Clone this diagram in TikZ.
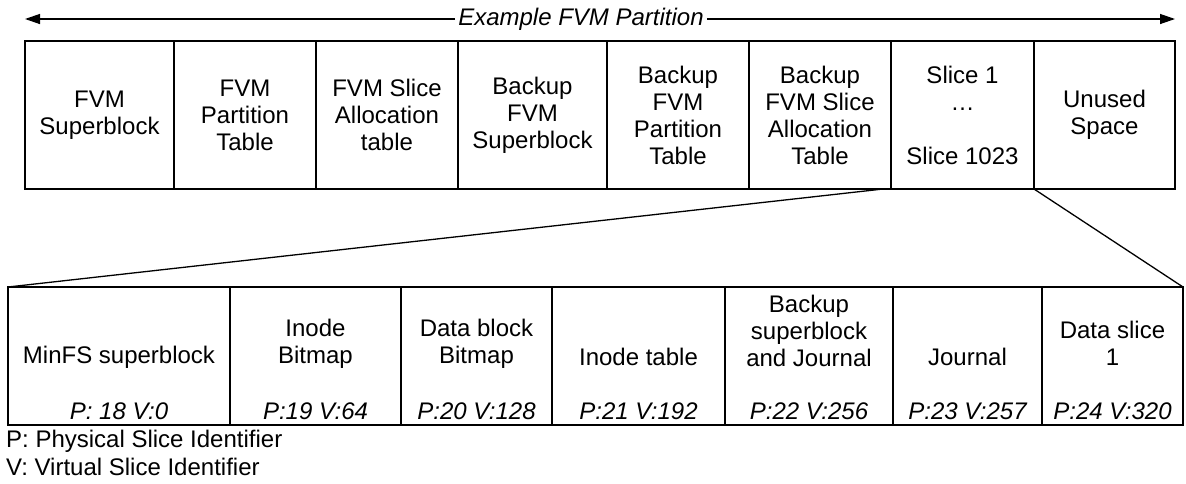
\documentclass[tikz,border=0pt]{standalone}
\usepackage{fontspec}
\setmainfont{Liberation Sans}
\usetikzlibrary{arrows.meta,calc}

\tikzset{
  cell/.style={draw,line width=1.7pt,inner sep=0pt,outer sep=0pt,align=center,
    font=\fontsize{24}{27}\selectfont},
  txt/.style={inner sep=0pt,align=center,font=\fontsize{24}{27}\selectfont},
  sid/.style={inner sep=0pt,font=\fontsize{24}{27}\selectfont\itshape},
  link/.style={line width=1.3pt},
  span/.style={line width=1.3pt,-{Triangle[length=15pt,width=10pt]}}
}

\begin{document}
\begin{tikzpicture}[x=1pt,y=-1pt]
\useasboundingbox (0,0) rectangle (1186,483);

\node[cell,minimum width=149,minimum height=148] (sb) at (99.5,115) {FVM\\Superblock};
\node[cell,minimum width=142,minimum height=148] (pt) at (245,115) {FVM\\Partition\\Table};
\node[cell,minimum width=142,minimum height=148] (sat) at (387,115) {FVM Slice\\Allocation\\table};
\node[cell,minimum width=149,minimum height=148] (bsb) at (532.5,115) {Backup\\FVM\\Superblock};
\node[cell,minimum width=142,minimum height=148] (bpt) at (678,115) {Backup\\FVM\\Partition\\Table};
\node[cell,minimum width=142,minimum height=148] (bsat) at (820,115) {Backup\\FVM Slice\\Allocation\\Table};
\node[cell,minimum width=143,minimum height=148] (slices) at (962.5,115) {Slice 1\\\textellipsis\\{}\\Slice 1023};
\node[cell,minimum width=141,minimum height=148] (unused) at (1104.5,115) {Unused\\Space};

\node[sid,inner xsep=3pt] (title) at (581,19) {Example FVM Partition};
\coordinate (ptl) at (sb.north west |- title.center);
\coordinate (ptr) at (unused.north east |- title.center);
\draw[span] (title) -- (ptl);
\draw[span] (title) -- (ptr);

\node[cell,minimum width=222,minimum height=138] (msb) at (119,356) {};
\node[cell,minimum width=171,minimum height=138] (ibm) at (315.5,356) {};
\node[cell,minimum width=151,minimum height=138] (dbm) at (476.5,356) {};
\node[cell,minimum width=173,minimum height=138] (itab) at (638.5,356) {};
\node[cell,minimum width=168,minimum height=138] (bjnl) at (809,356) {};
\node[cell,minimum width=149,minimum height=138] (jnl) at (967.5,356) {};
\node[cell,minimum width=141,minimum height=138] (dslice) at (1112.5,356) {};

\node[txt] (msbtxt) at (119,357) {MinFS superblock};
\node[txt] (ibmtxt) at (315.5,343.75) {Inode\\Bitmap};
\node[txt] (dbmtxt) at (476.5,343.75) {Data block\\Bitmap};
\node[txt] (itabtxt) at (638.5,357) {Inode table};
\node[txt] (bjnltxt) at (809,330.5) {Backup\\superblock\\and Journal};
\node[txt] (jnltxt) at (967.5,357) {Journal};
\node[txt] (dslicetxt) at (1112.5,343.75) {Data slice\\1};

\node[sid] (msbid) at (119,411.5) {P: 18 V:0};
\node[sid] (ibmid) at (315.5,411.5) {P:19 V:64};
\node[sid] (dbmid) at (476.5,411.5) {P:20 V:128};
\node[sid] (itabid) at (638.5,411.5) {P:21 V:192};
\node[sid] (bjnlid) at (809,411.5) {P:22 V:256};
\node[sid] (jnlid) at (967.5,411.5) {P:23 V:257};
\node[sid] (dsliceid) at (1112.5,411.5) {P:24 V:320};

\coordinate (zl) at ($(bsat.south east)+(-8,0)$);
\draw[link] (zl) -- (msb.north west);
\draw[link] (slices.south east) -- (dslice.north east);

\node[txt,anchor=west] (legp) at (6,441) {P: Physical Slice Identifier};
\node[txt,anchor=west] (legv) at (6,467) {V: Virtual Slice Identifier};

\end{tikzpicture}
\end{document}
